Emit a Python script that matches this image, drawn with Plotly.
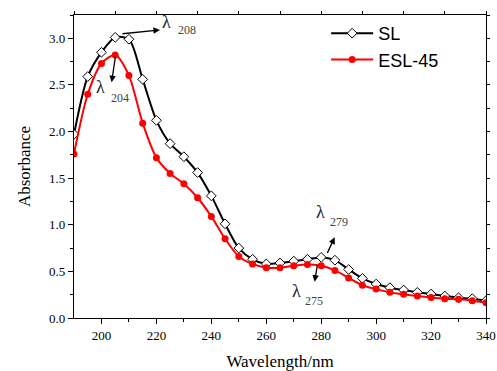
import plotly.graph_objects as go

wavelength = [190, 195, 200, 205, 210, 215, 220, 225, 230, 235, 240, 245, 250, 255, 260,
              265, 270, 275, 280, 285, 290, 295, 300, 305, 310, 315, 320, 325, 330, 335, 340]
sl = [1.97, 2.59, 2.85, 3.01, 2.99, 2.56, 2.12, 1.87, 1.73, 1.56, 1.31, 1.01, 0.75, 0.63, 0.58,
      0.59, 0.61, 0.63, 0.65, 0.62, 0.52, 0.425, 0.364, 0.325, 0.30, 0.275, 0.257, 0.236, 0.218, 0.207, 0.186]
esl45 = [1.76, 2.40, 2.73, 2.82, 2.60, 2.09, 1.72, 1.55, 1.44, 1.29, 1.09, 0.85, 0.66, 0.58, 0.54,
         0.54, 0.56, 0.575, 0.56, 0.51, 0.43, 0.35, 0.31, 0.275, 0.254, 0.236, 0.22, 0.207, 0.20, 0.186, 0.164]
x_ticks = [200, 220, 240, 260, 280, 300, 320, 340]
y_ticks = [0.0, 0.5, 1.0, 1.5, 2.0, 2.5, 3.0]
peaks = [("208", 221.3, 3.09, -39, 4), ("204", 203.7, 2.53, 4, -27),
         ("279", 284.9, 0.865, -8, 17), ("275", 277.6, 0.389, 3, -18)]

# plot area geometry (pixels)
L, R, T, B = 74, 486, 15, 318
XMIN, XMAX, YMIN, YMAX = 190, 340, 0, 3.25


def px2x(px):
    return XMIN + (px - L) / (R - L) * (XMAX - XMIN)


def px2y(py):
    return YMIN + (B - py) / (B - T) * (YMAX - YMIN)


fig = go.Figure()
fig.add_trace(go.Scatter(
    x=wavelength, y=sl, name="SL", mode="lines+markers",
    line=dict(color="black", width=2, shape="spline", smoothing=0.8),
    marker=dict(symbol="diamond", size=7.5, color="white", line=dict(color="black", width=1)),
))
fig.add_trace(go.Scatter(
    x=wavelength, y=esl45, name="ESL-45", mode="lines+markers",
    line=dict(color="red", width=2, shape="spline", smoothing=0.8),
    marker=dict(symbol="circle", size=7, color="red"),
))
# dummy trace for top/right mirror ticks
fig.add_trace(go.Scatter(x=[None], y=[None], xaxis="x2", yaxis="y2", showlegend=False))

serif = "Liberation Serif, Times New Roman, serif"
fig.update_layout(
    template="none",
    width=497, height=371,
    margin=dict(l=L, r=497 - R, t=T, b=371 - B, autoexpand=False),
    paper_bgcolor="white", plot_bgcolor="white",
    font=dict(family=serif, size=13, color="black"),
    showlegend=True,
    legend=dict(x=0.612, y=1.0, xanchor="left", yanchor="top",
                font=dict(family="Liberation Sans, Arial, sans-serif", size=18, color="black"),
                bgcolor="rgba(0,0,0,0)", itemwidth=42, tracegroupgap=0, borderwidth=0),
    xaxis=dict(range=[XMIN, XMAX], tickvals=x_ticks, ticks="outside", ticklen=5, tickwidth=1,
               tickcolor="black", automargin=False,
               showline=True, linecolor="black", linewidth=1.2, showgrid=False, zeroline=False,
               minor=dict(tickvals=[210, 230, 250, 270, 290, 310, 330], ticks="outside", ticklen=3,
                          tickcolor="black", showgrid=False),
               title=dict(text="Wavelength/nm", font=dict(family=serif, size=17, color="black"), standoff=15),
               tickfont=dict(family=serif, size=13, color="black")),
    yaxis=dict(range=[YMIN, YMAX], tickvals=y_ticks, tickformat=".1f", ticks="outside", ticklen=5,
               tickcolor="black", automargin=False,
               showline=True, linecolor="black", linewidth=1.2, showgrid=False, zeroline=False,
               minor=dict(tickvals=[0.25, 0.75, 1.25, 1.75, 2.25, 2.75, 3.25], ticks="outside", ticklen=3,
                          tickcolor="black", showgrid=False),
               title=dict(text="Absorbance", font=dict(family=serif, size=17, color="black"), standoff=14),
               tickfont=dict(family=serif, size=13, color="black")),
    xaxis2=dict(range=[XMIN, XMAX], overlaying="x", side="top", tick0=190, dtick=15,
                ticks="outside", ticklen=3, tickcolor="black", showticklabels=False, showline=True,
                linecolor="black", linewidth=1.2, showgrid=False, zeroline=False, automargin=False),
    yaxis2=dict(range=[YMIN, YMAX], overlaying="y", side="right", tick0=0, dtick=0.25,
                ticks="outside", ticklen=3, tickcolor="black", showticklabels=False, showline=True,
                linecolor="black", linewidth=1.2, showgrid=False, zeroline=False, automargin=False),
)

annotations = []
# arrows
for label, hx, hy, ax, ay in peaks:
    annotations.append(dict(x=hx, y=hy, xref="x", yref="y", ax=ax, ay=ay, text="",
                            showarrow=True, arrowhead=2, arrowsize=1, arrowwidth=1.3,
                            arrowcolor="black"))
# lambda labels (pixel positions of text)
lam_pos = {"208": ((166.7, 21.7), (187, 30)), "204": ((100.7, 86.7), (120, 98.3)),
           "279": ((320.7, 211.7), (339.3, 221.7)), "275": ((296, 291), (314, 300.7))}
for label, (lp, sp) in lam_pos.items():
    annotations.append(dict(x=px2x(lp[0]), y=px2y(lp[1]), xref="x", yref="y", text="λ",
                            showarrow=False, font=dict(family=serif, size=18, color="#222")))
    annotations.append(dict(x=px2x(sp[0]), y=px2y(sp[1]), xref="x", yref="y", text=label,
                            showarrow=False, font=dict(family=serif, size=12, color="#444")))
fig.update_layout(annotations=annotations)

fig.write_html("out.html", config={"displayModeBar": False},
               post_script="document.body.style.margin='0';document.body.style.overflow='hidden';")
